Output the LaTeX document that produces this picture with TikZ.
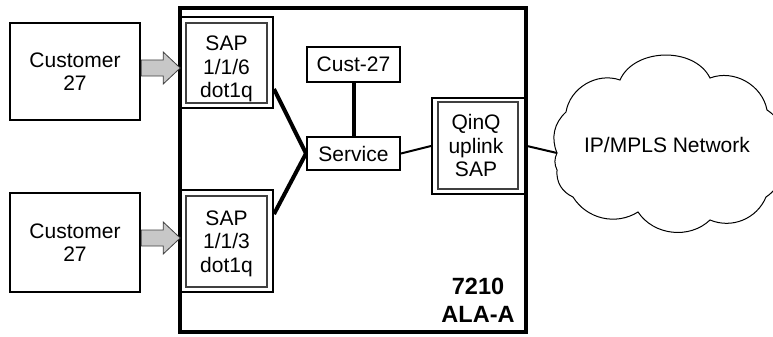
\documentclass[tikz,border=0pt]{standalone}
\usepackage{fontspec}
\setmainfont{Liberation Sans}
\begin{document}
\begin{tikzpicture}[x=1pt,y=-1pt,
  txt/.style={font=\fontsize{21}{23.5}\selectfont, align=center, inner sep=0pt},
  plainbox/.style={draw, line width=2.4pt, inner sep=0pt},
  smallbox/.style={draw, line width=2pt, inner sep=0pt, font=\fontsize{21}{23.5}\selectfont},
  sapouter/.style={draw, line width=2pt, inner sep=0pt},
  sapinner/.style={draw=black!75, line width=1.1pt, inner sep=0pt},
  chassis/.style={draw, line width=3.5pt, inner sep=0pt},
  thick link/.style={line width=4pt},
  thin link/.style={line width=2pt},
  garrow/.style={fill=black!22, draw=black!75, line width=0.8pt, line join=miter},
  cloudline/.style={draw, line width=1pt}]
\useasboundingbox (0,0) rectangle (773,337);
\clip (0,0) rectangle (773,337);

% 7210 chassis
\node[chassis, minimum width=346pt, minimum height=324pt] (chassis) at (353,170) {};
\node[align=center, inner sep=0pt, font=\fontsize{23.5}{28}\selectfont\bfseries] (name) at (478,300) {7210\\ALA-A};

% customer sites
\node[plainbox, minimum width=130pt, minimum height=97pt] (cust1) at (75,71.5) {};
\node[txt] at (cust1.center) {Customer\\27};
\node[plainbox, minimum width=130pt, minimum height=99pt] (cust2) at (75,242.5) {};
\node[txt] at (cust2.center) {Customer\\27};

% access SAPs
\node[sapouter, minimum width=93pt, minimum height=91pt] (sap1) at (226.5,62.5) {};
\node[sapinner, minimum width=81pt, minimum height=80pt] (sap1i) at (226.5,63) {};
\node[txt] at ([yshift=-6pt]sap1i.center) {SAP\\1/1/6\\dot1q};

\node[sapouter, minimum width=93pt, minimum height=102pt] (sap2) at (226.5,241) {};
\node[sapinner, minimum width=81pt, minimum height=91pt] (sap2i) at (226.5,241.5) {};
\node[txt] at ([yshift=-2pt]sap2i.center) {SAP\\1/1/3\\dot1q};

% service and customer id
\node[smallbox, minimum width=93pt, minimum height=35pt] (cust27) at (353.5,64.5) {Cust-27};
\node[smallbox, minimum width=93pt, minimum height=33pt] (svc) at (353.5,153.5) {Service};

% uplink SAP
\node[sapouter, minimum width=94pt, minimum height=96pt] (qinq) at (479,146) {};
\node[sapinner, minimum width=80pt, minimum height=87pt] (qinqi) at (478,145.5) {};
\node[txt] at ([xshift=-2pt]qinqi.center) {QinQ\\uplink\\SAP};

% network cloud
\coordinate (cloudL) at (557,153);
\draw[cloudline] (cloudL) to[bend left=35] (566,112) to[bend left=50] (620,80)
  to[bend left=65] (710,78) to[bend left=50] (767,110) to[bend left=40] (780,150)
  to[bend left=40] (766,197) to[bend left=45] (710,220) to[bend left=50] (638,212)
  to[bend left=45] (573,197) to[bend left=35] (557,170) to[bend left=25] cycle;
\node[txt] (cloud) at (667,145) {IP/MPLS Network};

% block arrows into the SAPs
\draw[garrow] ([yshift=3.5pt]cust1.east) ++(0,-8) -- ++(22,0) -- ++(0,-8)
  -- ++(17,16) -- ++(-17,16) -- ++(0,-8) -- ++(-22,0) -- cycle;
\draw[garrow] ([yshift=4.5pt]cust2.east) ++(0,-8) -- ++(22,0) -- ++(0,-8)
  -- ++(17,16) -- ++(-17,16) -- ++(0,-8) -- ++(-22,0) -- cycle;

% links
\draw[thick link] ([yshift=20pt]sap1.south east) -- (svc.west);
\draw[thick link] ([yshift=-25pt]sap2.north east) -- (svc.west);
\draw[thick link] (cust27.south) -- (svc.north);
\draw[thin link] (svc.east) -- (qinq.west);
\draw[thin link] (qinq.east) -- (cloudL);
\end{tikzpicture}
\end{document}
